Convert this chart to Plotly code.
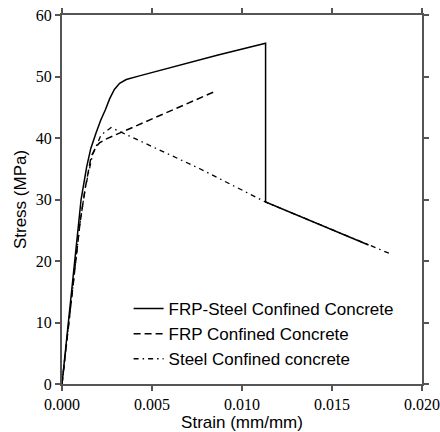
import plotly.graph_objects as go

# FRP-Steel confined concrete (solid)
frp_steel_strain = [0.0, 0.0005, 0.00091, 0.00106, 0.00137, 0.0016, 0.0019, 0.00215, 0.00241, 0.00265, 0.00291, 0.0032, 0.00357, 0.004, 0.0043, 0.00867, 0.01131, 0.01131, 0.01703]
frp_steel_stress = [0.0, 14.0, 26.2, 30.0, 35.3, 38.3, 40.9, 42.9, 44.6, 46.4, 47.9, 48.9, 49.5, 49.9, 50.1, 53.5, 55.4, 29.6, 22.6]

# FRP confined concrete (dashed)
frp_strain = [0.0, 0.0005, 0.001, 0.0013, 0.00162, 0.0019, 0.00208, 0.0025, 0.0086]
frp_stress = [0.0, 13.6, 26.2, 32.0, 37.0, 38.6, 39.2, 39.9, 47.7]

# Steel confined concrete (dash-dot)
steel_strain = [0.0, 0.0005, 0.001, 0.0013, 0.0017, 0.00217, 0.00273, 0.00766, 0.0113, 0.0183]
steel_stress = [0.0, 13.6, 26.2, 32.0, 37.3, 40.5, 41.7, 35.0, 29.6, 21.1]

x_ticks = [0.0, 0.005, 0.01, 0.015, 0.02]
y_ticks = [0, 10, 20, 30, 40, 50, 60]

SERIF = "Liberation Serif"
SANS = "Liberation Sans"

fig = go.Figure()
fig.add_trace(go.Scatter(x=frp_steel_strain, y=frp_steel_stress, mode="lines",
                         name="FRP-Steel Confined Concrete",
                         line=dict(color="black", width=1.5, dash="solid")))
fig.add_trace(go.Scatter(x=frp_strain, y=frp_stress, mode="lines",
                         name="FRP Confined Concrete",
                         line=dict(color="black", width=1.5, dash="7px,4px")))
fig.add_trace(go.Scatter(x=steel_strain, y=steel_stress, mode="lines",
                         name="Steel Confined concrete",
                         line=dict(color="black", width=1.3, dash="5px,4px,1.5px,4px")))

fig.update_layout(
    width=440, height=432,
    margin=dict(l=62, r=18, t=15, b=48),
    paper_bgcolor="white", plot_bgcolor="white",
    font=dict(family=SANS, size=14, color="black"),
    legend=dict(x=0.185, y=0.252, xanchor="left", yanchor="top",
                bgcolor="rgba(0,0,0,0)", borderwidth=0,
                font=dict(family=SANS, size=17, color="black"),
                tracegroupgap=0),
    showlegend=True,
    xaxis=dict(
        range=[0, 0.02], tickmode="array", tickvals=x_ticks, tickformat=".3f",
        tickfont=dict(family=SERIF, size=16, color="black"),
        title=dict(text="Strain (mm/mm)", font=dict(family=SANS, size=17, color="black"), standoff=0),
        showline=True, linecolor="#555555", linewidth=2, mirror="ticks",
        ticks="outside", ticklen=5, tickwidth=1.5, tickcolor="#555555",
        showgrid=False, zeroline=False, automargin=False, ticklabeloverflow="allow"),
    yaxis=dict(
        range=[0, 60], tickmode="array", tickvals=y_ticks, tickformat="d",
        tickfont=dict(family=SERIF, size=16, color="black"),
        title=dict(text="Stress (MPa)", font=dict(family=SANS, size=17, color="black"), standoff=5),
        showline=True, linecolor="#555555", linewidth=2, mirror="ticks",
        ticks="outside", ticklen=5, tickwidth=1.5, tickcolor="#555555",
        showgrid=False, zeroline=False, automargin=False),
)

fig.write_html("out.html")
